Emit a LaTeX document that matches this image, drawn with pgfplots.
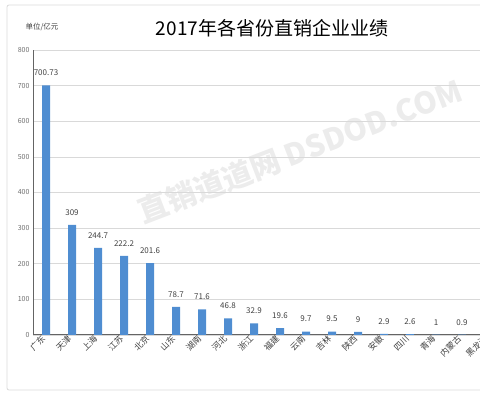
\documentclass[border=0pt]{standalone}
\usepackage{fontspec}
\setmainfont{Noto Sans CJK SC}
\usepackage{pgfplots}
\pgfplotsset{compat=1.18}
\definecolor{barblue}{RGB}{79,141,209}
\definecolor{gridgray}{RGB}{217,217,217}
\definecolor{axisgray}{RGB}{100,100,100}
\definecolor{txtgray}{RGB}{64,64,64}
\definecolor{tickgray}{RGB}{110,110,110}
\definecolor{wmgray}{RGB}{236,236,236}
\begin{document}
\begin{tikzpicture}[x=1pt,y=1pt]
\draw[black!15, line width=0.8pt, rounded corners=2pt] (7,5) rectangle (520,390);
\node[rotate=21, text=wmgray, font=\fontsize{30}{30}\selectfont\bfseries] at (300,244) {直销道道网 DSDOD.COM};
\begin{axis}[
  at={(33pt,60pt)}, anchor=south west, scale only axis,
  width=468pt, height=285pt,
  xmin=-0.5, xmax=17.5, ymin=0, ymax=800,
  ytick={0,100,...,800},
  xtick={0,...,17},
  xticklabels={广东,天津,上海,江苏,北京,山东,湖南,河北,浙江,福建,云南,吉林,陕西,安徽,四川,青海,内蒙古,黑龙江},
  ymajorgrids, grid style={gridgray, line width=0.6pt},
  axis lines*=left, axis line style={-, axisgray, line width=1pt},
  major tick length=0pt,
  /pgf/number format/assume math mode=true,
  yticklabel style={font=\fontsize{7}{8}\selectfont, text=tickgray},
  xticklabel style={font=\fontsize{8.5}{9}\selectfont, text=txtgray, rotate=45, anchor=east},
  clip=false,
  ybar, bar width=8pt,
  nodes near coords, point meta=explicit symbolic,
  every node near coord/.append style={font=\fontsize{8}{9}\selectfont, text=txtgray, yshift=6pt},
]
\addplot[fill=barblue, draw=none] table[x=x, y=y, meta=lab] {
x y lab
0 700.73 700.73
1 309 309
2 244.7 244.7
3 222.2 222.2
4 201.6 201.6
5 78.7 78.7
6 71.6 71.6
7 46.8 46.8
8 32.9 32.9
9 19.6 19.6
10 9.7 9.7
11 9.5 9.5
12 9 9
13 2.9 2.9
14 2.6 2.6
15 1 1
16 0.9 0.9
};
\end{axis}
\node at (272,367) {\fontsize{19}{19}\selectfont 2017年各省份直销企业业绩};
\node[anchor=west, text=txtgray] at (22,368) {\fontsize{7.5}{8}\selectfont 单位/亿元};
\fill[white] (480,-5) rectangle (530,400);
\pgfresetboundingbox
\useasboundingbox (0,0) rectangle (487,395);
\end{tikzpicture}
\end{document}
